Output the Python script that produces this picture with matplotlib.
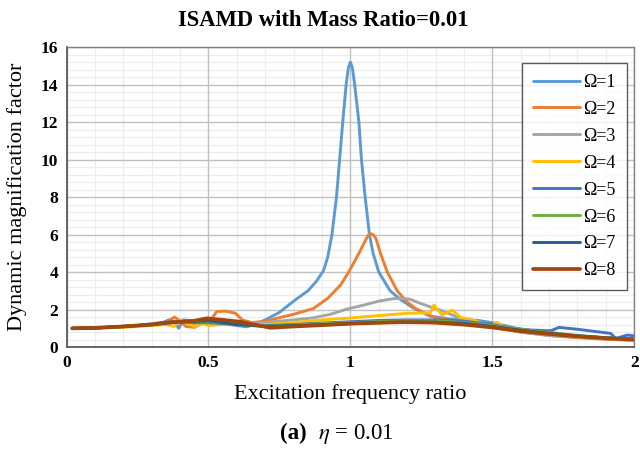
import matplotlib
matplotlib.use("Agg")
import matplotlib.pyplot as plt

plt.rcParams['font.family'] = ['Liberation Serif', 'DejaVu Serif']
plt.rcParams['mathtext.fontset'] = 'stix'

labels = ["Ω=1", "Ω=2", "Ω=3", "Ω=4", "Ω=5", "Ω=6", "Ω=7", "Ω=8"]
colors = ["#5B9BD5", "#ED7D31", "#A5A5A5", "#FFC000", "#4472C4", "#70AD47", "#255E91", "#9E480E"]

x1 = [0.02, 0.1, 0.2, 0.25, 0.3, 0.34, 0.36, 0.38, 0.395, 0.41, 0.44, 0.47, 0.5, 0.55, 0.6, 0.635, 0.66, 0.7,
      0.75, 0.8, 0.85, 0.88, 0.906, 0.92, 0.935, 0.951, 0.962, 0.973, 0.985, 0.993, 1.0, 1.007, 1.015, 1.03,
      1.039, 1.052, 1.067, 1.08, 1.1, 1.14, 1.18, 1.22, 1.28, 1.35, 1.45, 1.5, 1.6, 1.7, 1.8, 1.9, 2.0]
y1 = [1.0, 1.02, 1.1, 1.15, 1.25, 1.32, 1.45, 1.35, 1.0, 1.45, 1.4, 1.3, 1.3, 1.25, 1.15, 1.08, 1.2, 1.45,
      1.85, 2.45, 3.0, 3.5, 4.1, 4.8, 6.0, 8.0, 10.0, 12.0, 14.0, 14.9, 15.2, 14.9, 14.0, 12.0,
      10.0, 8.0, 6.0, 5.0, 4.0, 3.0, 2.5, 2.1, 1.65, 1.5, 1.42, 1.3, 0.95, 0.75, 0.6, 0.5, 0.42]

x2 = [0.02, 0.1, 0.2, 0.3, 0.35, 0.38, 0.4, 0.42, 0.45, 0.48, 0.5, 0.53, 0.56, 0.594, 0.62, 0.653, 0.7, 0.753,
      0.8, 0.87, 0.92, 0.965, 0.994, 1.03, 1.05, 1.062, 1.071, 1.08, 1.09, 1.106, 1.13, 1.165, 1.2, 1.23, 1.25,
      1.3, 1.4, 1.5, 1.6, 1.7, 1.8, 1.9, 2.0]
y2 = [1.0, 1.02, 1.1, 1.2, 1.3, 1.6, 1.4, 1.1, 1.05, 1.3, 1.3, 1.9, 1.92, 1.81, 1.44, 1.31, 1.38, 1.58,
      1.75, 2.06, 2.6, 3.3, 4.0, 5.0, 5.6, 5.95, 6.05, 6.0, 5.8, 5.0, 4.0, 3.0, 2.4, 2.05, 1.9,
      1.55, 1.3, 1.05, 0.8, 0.62, 0.5, 0.42, 0.35]

x3 = [0.02, 0.1, 0.2, 0.3, 0.4, 0.45, 0.5, 0.55, 0.6, 0.7, 0.753, 0.8, 0.87, 0.93, 0.988, 1.05, 1.1, 1.15,
      1.176, 1.21, 1.247, 1.28, 1.317, 1.388, 1.458, 1.5, 1.6, 1.7, 1.8, 1.9, 2.0]
y3 = [1.0, 1.02, 1.1, 1.2, 1.35, 1.2, 1.3, 1.35, 1.3, 1.3, 1.39, 1.45, 1.56, 1.75, 2.03, 2.25, 2.45, 2.58,
      2.6, 2.55, 2.33, 2.15, 1.97, 1.53, 1.26, 1.1, 0.8, 0.62, 0.52, 0.45, 0.4]

x4 = [0.02, 0.1, 0.2, 0.25, 0.3, 0.35, 0.38, 0.4, 0.42, 0.45, 0.48, 0.5, 0.55, 0.6, 0.7, 0.8, 0.9, 1.0, 1.1,
      1.2, 1.282, 1.294, 1.323, 1.359, 1.388, 1.41, 1.43, 1.45, 1.47, 1.5, 1.517, 1.55, 1.6, 1.7, 1.8, 1.9, 2.0]
y4 = [1.0, 1.02, 1.05, 1.1, 1.15, 1.2, 1.1, 1.45, 1.35, 1.1, 1.25, 1.15, 1.2, 1.2, 1.2, 1.3, 1.45, 1.55, 1.68,
      1.8, 1.83, 2.24, 1.71, 1.97, 1.58, 1.52, 1.45, 1.35, 1.22, 1.2, 1.32, 1.0, 0.9, 0.7, 0.55, 0.45, 0.38]

x5 = [0.02, 0.1, 0.2, 0.3, 0.35, 0.4, 0.45, 0.5, 0.55, 0.6, 0.7, 0.8, 0.9, 1.0, 1.1, 1.2, 1.3, 1.4, 1.5, 1.57,
      1.635, 1.706, 1.735, 1.8, 1.917, 1.935, 1.976, 2.0]
y5 = [1.0, 1.02, 1.1, 1.2, 1.3, 1.35, 1.3, 1.3, 1.25, 1.2, 1.15, 1.2, 1.28, 1.35, 1.42, 1.45, 1.45, 1.38, 1.2, 1.0,
      0.91, 0.87, 1.05, 0.95, 0.73, 0.46, 0.64, 0.6]

x6 = [0.02, 0.1, 0.2, 0.3, 0.4, 0.5, 0.6, 0.7, 0.8, 0.9, 1.0, 1.1, 1.2, 1.3, 1.4, 1.5, 1.6, 1.7, 1.8, 1.9, 2.0]
y6 = [1.0, 1.02, 1.1, 1.2, 1.35, 1.35, 1.2, 1.12, 1.18, 1.25, 1.3, 1.36, 1.4, 1.4, 1.32, 1.15, 0.95, 0.78, 0.62, 0.5, 0.42]

x7 = [0.02, 0.1, 0.2, 0.3, 0.4, 0.5, 0.6, 0.7, 0.8, 0.9, 1.0, 1.1, 1.2, 1.3, 1.4, 1.5, 1.6, 1.7, 1.8, 1.9, 2.0]
y7 = [1.0, 1.02, 1.1, 1.2, 1.35, 1.4, 1.2, 1.1, 1.15, 1.2, 1.25, 1.3, 1.33, 1.33, 1.27, 1.1, 0.9, 0.74, 0.6, 0.49, 0.42]

x8 = [0.02, 0.1, 0.2, 0.3, 0.35, 0.4, 0.45, 0.494, 0.55, 0.612, 0.718, 0.8, 0.9, 1.0, 1.1, 1.176, 1.25, 1.3,
      1.4, 1.5, 1.6, 1.7, 1.8, 1.9, 2.0]
y8 = [1.0, 1.02, 1.1, 1.2, 1.3, 1.35, 1.4, 1.53, 1.45, 1.35, 1.03, 1.1, 1.17, 1.25, 1.3, 1.33, 1.32, 1.3,
      1.2, 1.05, 0.85, 0.7, 0.57, 0.47, 0.4]

xs = [x1, x2, x3, x4, x5, x6, x7, x8]
ys = [y1, y2, y3, y4, y5, y6, y7, y8]
widths = [2.1, 2.1, 2.1, 2.1, 2.1, 2.1, 2.1, 2.7]

xticks = [0, 0.5, 1, 1.5, 2]
xticklabels = ["0", "0.5", "1", "1.5", "2"]
yticks = [0, 2, 4, 6, 8, 10, 12, 14, 16]

fig = plt.figure(figsize=(6.4, 4.49), dpi=100)
ax = fig.add_axes([0.104, 0.227, 0.887, 0.668])

# grid: minor first, then major on top
xminor = [i / 10 for i in range(21) if i % 5 != 0]
yminor = [i * 0.4 for i in range(41) if i % 5 != 0]
for v in xminor:
    ax.axvline(v, color='#ECECEC', lw=0.8, zorder=0.5)
for v in yminor:
    ax.axhline(v, color='#ECECEC', lw=0.8, zorder=0.5)
for v in xticks:
    ax.axvline(v, color='#C0C0C0', lw=1.0, zorder=0.6)
for v in yticks:
    ax.axhline(v, color='#C0C0C0', lw=1.0, zorder=0.6)

for x, y, c, lab, w in zip(xs, ys, colors, labels, widths):
    ax.plot(x, y, color=c, lw=w, label=lab, solid_joinstyle='round', solid_capstyle='round', zorder=2)

ax.set_xlim(0, 2)
ax.set_ylim(0, 16)
ax.set_xticks(xticks)
ax.set_xticklabels(xticklabels)
ax.set_yticks(yticks)
ax.tick_params(which='both', length=0)
ax.tick_params(axis='both', labelsize=12.5, pad=6)
for lab in ax.get_xticklabels() + ax.get_yticklabels():
    lab.set_fontweight('bold')

for side in ['left', 'bottom']:
    ax.spines[side].set_color('#595959')
    ax.spines[side].set_linewidth(1.3)
for side in ['top', 'right']:
    ax.spines[side].set_color('#808080')
    ax.spines[side].set_linewidth(1.0)

ax.set_xlabel("Excitation frequency ratio", fontsize=16, labelpad=9)
ax.set_ylabel("Dynamic magnification factor", fontsize=16, labelpad=10)

leg = ax.legend(loc='upper right', bbox_to_anchor=(0.987, 0.947), fontsize=13,
                frameon=True, fancybox=False, handlelength=2.6, handletextpad=0.2,
                labelspacing=0.55, borderpad=0.6, borderaxespad=0)
leg.get_frame().set_edgecolor('#333333')
leg.get_frame().set_linewidth(1.0)
leg.set_zorder(5)

fig.text(0.505, 0.955, "ISAMD with Mass Ratio=0.01", ha='center', va='center',
         fontsize=16.3, fontweight='bold')
fig.text(0.479, 0.034, "(a)", ha='right', va='center', fontsize=16.5, fontweight='bold')
fig.text(0.497, 0.034, r"$\eta$ = 0.01", ha='left', va='center', fontsize=16.5)

fig.savefig("out.png", dpi=100)
